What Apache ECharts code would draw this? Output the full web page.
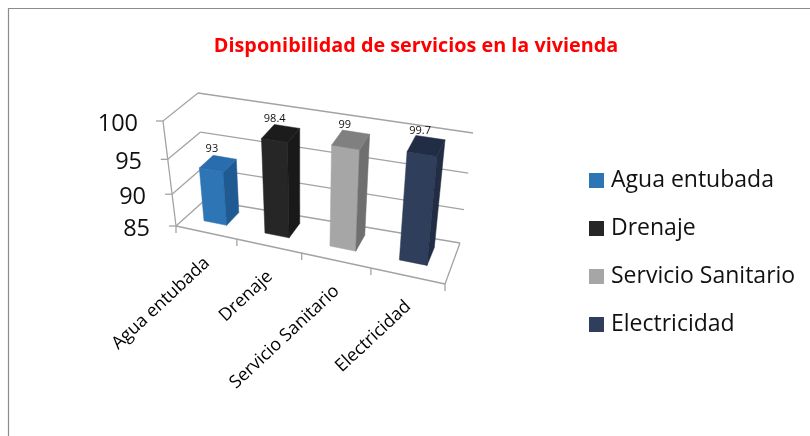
<!DOCTYPE html>
<html>
<head>
<meta charset="utf-8">
<style>html,body{margin:0;padding:0;background:#fff}#c{width:810px;height:436px}</style>
<script src="https://cdn.jsdelivr.net/npm/echarts@6/dist/echarts.min.js"></script>
</head>
<body>
<div id="c"></div>
<script>
const titleText = 'Disponibilidad de servicios en la vivienda';
const categories = ['Agua entubada', 'Drenaje', 'Servicio Sanitario', 'Electricidad'];
const values = [93, 98.4, 99, 99.7];
const valueTicks = [85, 90, 95, 100];
const faceColors = ['#2E75B6', '#262626', '#A6A6A6', '#2F3F5B'];
const topColors = ['#2A6DAE', '#1C1C1C', '#808080', '#212D45'];
const sideColors = ['#1F5A93', '#191919', '#6F6F6F', '#212D44'];

const GRID = {left: 163, top: 121, width: 283, height: 105};
const C = {
  fb0: [176, 226], fb1: [445, 284], bb0: [205, 200], bb1: [460, 243],
  ft0: [163, 121], ft1: [457, 171], bt0: [198, 93], bt1: [473, 133]
};
const lerp = (a, b, k) => [a[0] + (b[0] - a[0]) * k, a[1] + (b[1] - a[1]) * k];
const warp = (t, k) => t / (k - (k - 1) * t);
function proj(t, v, d) {
  const u = warp(t, 1.14);
  const w = warp(v, 1.15);
  const front = lerp(lerp(C.fb0, C.fb1, u), lerp(C.ft0, C.ft1, u), w);
  const back = lerp(lerp(C.bb0, C.bb1, u), lerp(C.bt0, C.bt1, u), w);
  return lerp(front, back, d);
}
const toT = px => (px - GRID.left) / GRID.width;
const toV = py => (GRID.top + GRID.height - py) / GRID.height;
const LINE = {stroke: '#A3A3A3', lineWidth: 1.3, fill: null};
const seg = (a, b) => ({type: 'line', shape: {x1: a[0], y1: a[1], x2: b[0], y2: b[1]}, style: LINE, silent: true});

function renderFrame(params, api) {
  const children = [];
  valueTicks.forEach(tick => {
    const v = toV(api.coord([0, tick])[1]);
    children.push(seg(proj(0, v, 1), proj(1, v, 1)));
    children.push(seg(proj(0, v, 0), proj(0, v, 1)));
    const p = proj(0, v, 0);
    children.push(seg([p[0] - 7, p[1]], p));
  });
  children.push(seg(proj(0, 0, 0), proj(0, 1, 0)));
  children.push(seg(proj(0, 0, 0), proj(1, 0, 0)));
  children.push(seg(proj(1, 0, 0), proj(1, 0, 1)));
  categories.concat(['']).forEach((c, i) => {
    const p = proj(i / categories.length, 0, 0);
    children.push(seg(p, [p[0], p[1] + 7]));
  });
  categories.forEach((c, i) => {
    const t = toT(api.coord([i, 85])[0]);
    const p = proj(t, 0, 0);
    children.push({
      type: 'text', x: p[0] + 1, y: p[1] + 28, rotation: 43 * Math.PI / 180, silent: true,
      style: {text: c, textAlign: 'right', textVerticalAlign: 'middle',
        font: '17.8px "Open Sans"', fill: '#000'}
    });
  });
  return {type: 'group', children};
}

function renderBar(params, api) {
  const i = api.value(0), val = api.value(1);
  const c = api.coord([i, val]);
  const base = api.coord([i, 85]);
  const half = api.size([1, 0])[0] * 0.19;
  const t0 = toT(c[0] - half), t1 = toT(c[0] + half);
  const v = toV(c[1]), v0 = toV(base[1]);
  const d0 = 0.34, d1 = 0.79;
  const poly = (pts, color) => ({type: 'polygon', shape: {points: pts},
    style: {fill: color, stroke: color, lineWidth: 0.5}});
  const fi = params.seriesIndex - 1;
  const labelAt = proj(toT(c[0]), v, (d0 + d1) / 2);
  return {type: 'group', children: [
    poly([proj(t0, v, d0), proj(t1, v, d0), proj(t1, v0, d0), proj(t0, v0, d0)], faceColors[fi]),
    poly([proj(t1, v, d0), proj(t1, v, d1), proj(t1, v0, d1), proj(t1, v0, d0)], sideColors[fi]),
    poly([proj(t0, v, d0), proj(t1, v, d0), proj(t1, v, d1), proj(t0, v, d1)], topColors[fi]),
    {type: 'text', x: labelAt[0] - 6, y: labelAt[1] - 15, silent: true,
      style: {text: String(val), textAlign: 'center', textVerticalAlign: 'middle',
        font: '11px "Open Sans"', fill: '#111'}}
  ]};
}

const series = [{
  type: 'custom', name: '__frame', coordinateSystem: 'cartesian2d', silent: true,
  data: [[0, 85]], encode: {x: 0, y: 1}, renderItem: renderFrame, clip: false
}].concat(categories.map((name, i) => ({
  type: 'custom', name, coordinateSystem: 'cartesian2d', clip: false,
  itemStyle: {color: faceColors[i]},
  data: [[i, values[i]]], encode: {x: 0, y: 1}, renderItem: renderBar
})));

const chart = echarts.init(document.getElementById('c'), null, {renderer: 'canvas'});
chart.setOption({
  animation: false,
  backgroundColor: '#fff',
  title: {
    text: titleText, left: 411, top: 31, textAlign: 'center',
    textStyle: {color: '#FF0000', fontFamily: 'Open Sans', fontWeight: 'bold', fontSize: 19.8}
  },
  graphic: [{
    type: 'polyline', silent: true, z: -1,
    shape: {points: [[8.5, 436], [8.5, 8.5], [810, 8.5]]},
    style: {stroke: '#8C8C8C', lineWidth: 1.2, fill: null}
  }],
  legend: {
    orient: 'vertical', left: 584, top: 163, itemWidth: 15, itemHeight: 15, itemGap: 23, icon: 'rect',
    selectedMode: false,
    data: categories.map((name, i) => ({name, itemStyle: {color: faceColors[i]}})),
    textStyle: {fontFamily: 'Open Sans', fontSize: 23, color: '#111', lineHeight: 25, padding: [0, 0, 0, 2]}
  },
  grid: Object.assign({containLabel: false}, GRID),
  xAxis: {type: 'category', data: categories.map((c, i) => i), show: false},
  yAxis: {
    type: 'value', min: 85, max: 100, interval: 5,
    axisLine: {show: false}, axisTick: {show: false}, splitLine: {show: false},
    axisLabel: {
      margin: 13, color: '#111', fontFamily: 'Open Sans', fontSize: 23.5,
      formatter: val => '{p' + val + '|' + val + '}',
      rich: {
        p100: {padding: [6, 12, 0, 0], fontFamily: 'Open Sans', fontSize: 23.5, color: '#111'},
        p95: {padding: [13, 8, 0, 0], fontFamily: 'Open Sans', fontSize: 23.5, color: '#111'},
        p90: {padding: [12, 4, 0, 0], fontFamily: 'Open Sans', fontSize: 23.5, color: '#111'},
        p85: {padding: [6, 0, 0, 0], fontFamily: 'Open Sans', fontSize: 23.5, color: '#111'}
      }
    }
  },
  series
});
</script>
</body>
</html>
